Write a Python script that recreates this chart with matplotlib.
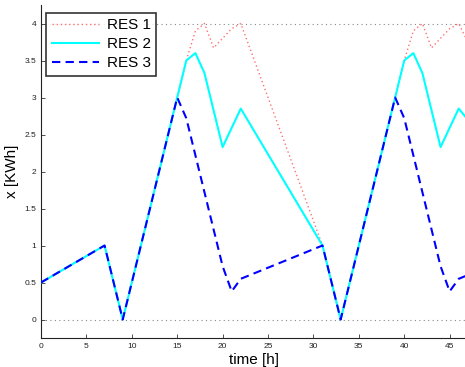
import matplotlib
matplotlib.use("Agg")
import matplotlib.pyplot as plt

# RES 1 (red dotted)
t1 = [0, 7, 9, 15, 16, 17, 18, 19, 20, 21, 22, 31, 33, 39, 40, 41, 42, 43, 44, 45, 46, 47]
v1 = [0.5, 1.0, 0.0, 3.0, 3.5, 3.9, 4.0, 3.67, 3.8, 3.93, 4.0, 1.0, 0.0, 3.0, 3.5, 3.9, 4.0, 3.67, 3.8, 3.93, 4.0, 3.75]
# RES 2 (cyan solid)
t2 = [0, 7, 9, 15, 16, 17, 18, 20, 22, 31, 33, 39, 40, 41, 42, 44, 46, 47]
v2 = [0.5, 1.0, 0.0, 3.0, 3.5, 3.6, 3.33, 2.33, 2.85, 1.0, 0.0, 3.0, 3.5, 3.6, 3.33, 2.33, 2.85, 2.7]
# RES 3 (blue dashed)
t3 = [0, 7, 9, 15, 16, 20, 21, 22, 31, 33, 39, 40, 44, 45, 46, 47]
v3 = [0.5, 1.0, 0.0, 3.0, 2.72, 0.72, 0.38, 0.55, 1.0, 0.0, 3.0, 2.72, 0.72, 0.38, 0.55, 0.6]
limits = [0, 4]
labels = ["RES 1", "RES 2", "RES 3"]
xticks = list(range(0, 50, 5))
yticks = [0, 0.5, 1, 1.5, 2, 2.5, 3, 3.5, 4]

plt.rcParams['font.family'] = ['Liberation Sans', 'DejaVu Sans']

fig = plt.figure(figsize=(4.65, 3.67), dpi=100)
ax = fig.add_axes([41/465, 29/367, 426.8/465, 333/367])

for lim in limits:
    ax.axhline(lim, color='#888888', linestyle=(0, (1, 3)), linewidth=0.8, zorder=1)

ax.plot(t1, v1, color='#ff7070', linestyle=(0, (1, 2)), linewidth=1.0, label=labels[0], zorder=2)
ax.plot(t2, v2, color='#00ffff', linestyle='-', linewidth=1.5, label=labels[1], zorder=3)
ax.plot(t3, v3, color='#0000ff', linestyle=(0, (4, 2.5)), linewidth=1.5, label=labels[2], zorder=4)

ax.set_xlim(0, 47)
ax.set_ylim(-0.25, 4.25)
ax.set_xticks(xticks)
ax.set_yticks(yticks)
ax.set_yticklabels([("%g" % y) for y in yticks])
ax.tick_params(direction='in', labelsize=6, length=3, width=0.6, colors='#333333', labelcolor='#222222')
for s in ['top', 'right']:
    ax.spines[s].set_visible(False)
for s in ['left', 'bottom']:
    ax.spines[s].set_linewidth(0.8)
    ax.spines[s].set_color('#222222')

ax.set_xlabel("time [h]", fontsize=11, labelpad=2)
ax.set_ylabel("x [KWh]", fontsize=11, labelpad=4)

leg = ax.legend(loc='upper left', bbox_to_anchor=(0.005, 0.985), fontsize=11, frameon=True,
                fancybox=False, edgecolor='black', handlelength=3.1, borderpad=0.35,
                labelspacing=0.33, handletextpad=0.5, borderaxespad=0.2)
leg.get_frame().set_linewidth(1.2)

fig.savefig("out.png", dpi=100)
